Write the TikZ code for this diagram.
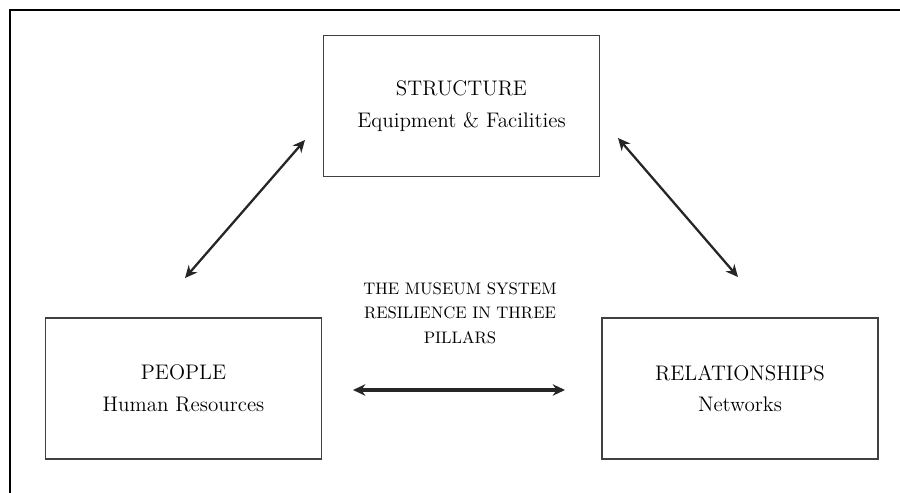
\documentclass[tikz,border=0pt]{standalone}
\usepackage{tikz}
\usetikzlibrary{arrows.meta}

\begin{document}
\begin{tikzpicture}[x=0.02cm, y=-0.02cm,
    pillar/.style={draw=black!75, line width=1pt, minimum width=5.52cm, minimum height=2.82cm, align=center, font=\fontsize{12}{18}\selectfont},
    link/.style={{Stealth[length=7pt,width=6.5pt]}-{Stealth[length=7pt,width=6.5pt]}, line width=1.3pt, black!85}]
  \useasboundingbox (0,0) rectangle (900,493);
  \draw[line width=1.2pt] (10,493) -- (10,10) -- (900,10);

  \node[pillar] (structure) at (461.5,106) {STRUCTURE\\Equipment \& Facilities};
  \node[pillar] (people) at (183.5,388.5) {PEOPLE\\Human Resources};
  \node[pillar] (relations) at (740,388.5) {RELATIONSHIPS\\Networks};

  \node[align=center, font=\fontsize{9.5}{14}\selectfont] (title) at (460,313) {THE MUSEUM SYSTEM\\RESILIENCE IN THREE\\PILLARS};

  \coordinate (lefttop) at (305,140);
  \coordinate (leftbot) at (185,278);
  \coordinate (righttop) at (618,138);
  \coordinate (rightbot) at (738,277);
  \coordinate (midleft) at (353,390);
  \coordinate (midright) at (565,390);

  \draw[link] (leftbot) -- (lefttop);
  \draw[link] (righttop) -- (rightbot);
  \draw[link, line width=1.8pt] (midleft) -- (midright);
\end{tikzpicture}
\end{document}
